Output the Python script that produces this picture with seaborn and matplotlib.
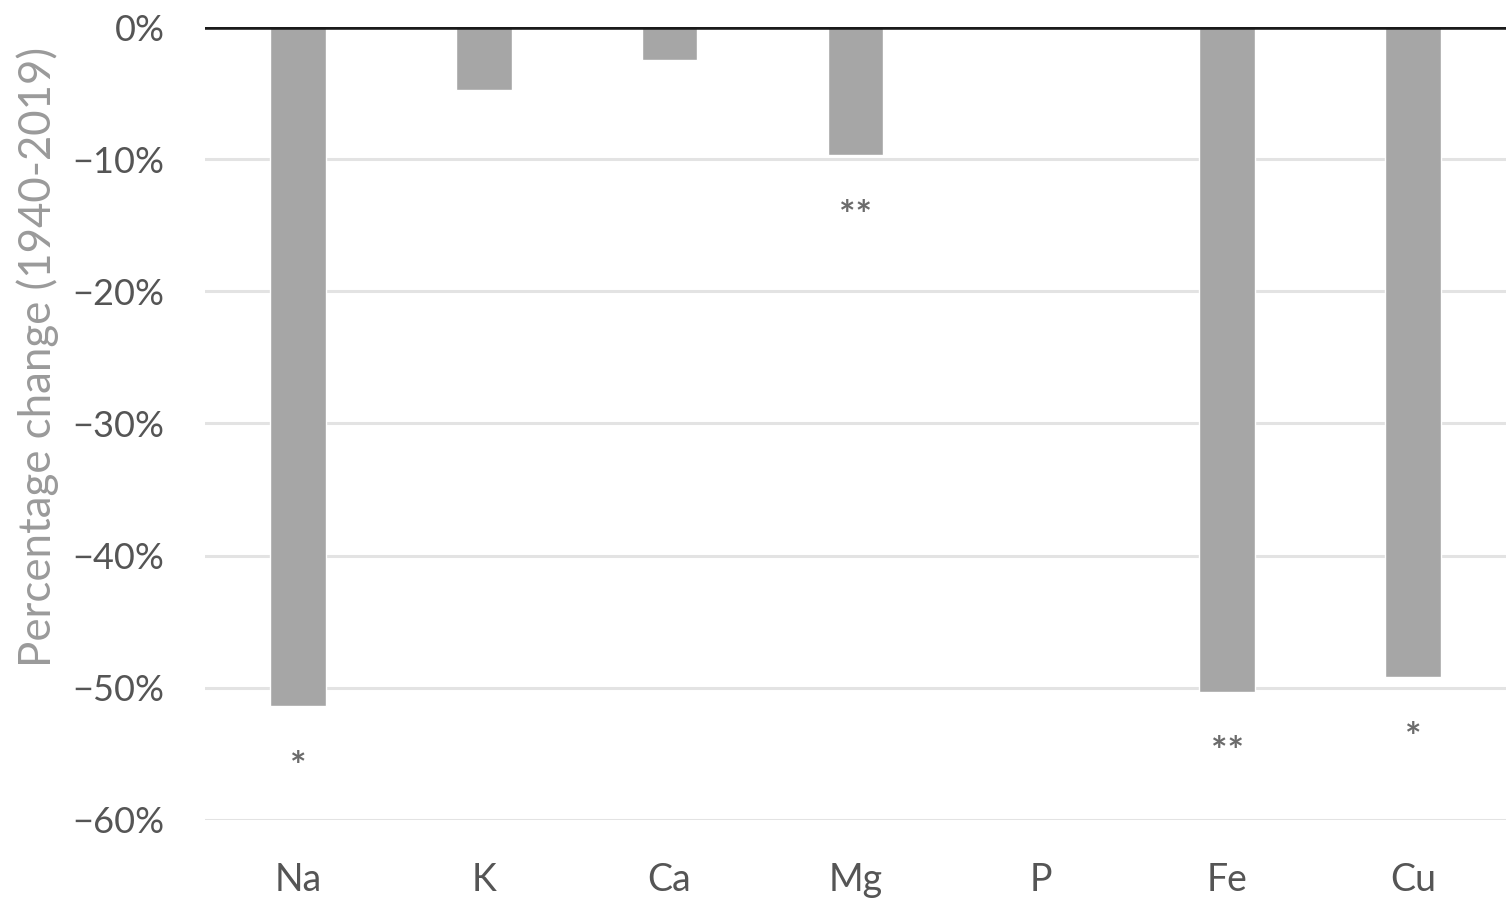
import matplotlib
matplotlib.use("Agg")
import matplotlib.pyplot as plt
import seaborn as sns
import pandas as pd
from matplotlib.ticker import FuncFormatter

minerals = ["Na", "K", "Ca", "Mg", "P", "Fe", "Cu"]
pct_change = [-51.4, -4.8, -2.5, -9.7, 0.0, -50.3, -49.2]
significance = ["*", "", "", "**", "", "**", "*"]
y_ticks = [0, -10, -20, -30, -40, -50, -60]

sns.set_theme(style="white")
plt.rcParams["font.family"] = ["Lato", "DejaVu Sans"]

df = pd.DataFrame({"mineral": minerals, "change": pct_change})

fig = plt.figure(figsize=(15.06, 9.01), dpi=100)
ax = fig.add_axes([0.136, 0.090, 0.864, 0.880])

for t in y_ticks[1:]:
    ax.axhline(t, color="#e3e3e3", lw=2.2, zorder=0)

sns.barplot(data=df, x="mineral", y="change", color="#a6a6a6", width=0.30,
            saturation=1, ax=ax, zorder=2)

ax.axhline(0, color="#1a1a1a", lw=4, zorder=3)

for i, (v, s) in enumerate(zip(pct_change, significance)):
    if s:
        ax.annotate(s, xy=(i, v), xytext=(0, -44), textcoords="offset points",
                    ha="center", va="center", fontsize=28, color="#6b6b6b",
                    fontweight="bold")

ax.set_ylim(-60, 0)
ax.set_xlim(-0.5, 6.5)
ax.set_yticks(y_ticks)
ax.yaxis.set_major_formatter(FuncFormatter(lambda v, p: f"{int(round(v))}%".replace("-", "\u2212")))
ax.tick_params(axis="y", labelsize=26, colors="#555555", pad=29, length=0)
ax.tick_params(axis="x", labelsize=27, colors="#555555", pad=30, length=0)
ax.set_xlabel("")
ax.set_ylabel("Percentage change (1940-2019)", fontsize=31.5, color="#9a9a9a")
ax.yaxis.set_label_coords(-0.112, 0.584)
for sp in ax.spines.values():
    sp.set_visible(False)
ax.grid(False)

fig.savefig("out.png", dpi=100)
